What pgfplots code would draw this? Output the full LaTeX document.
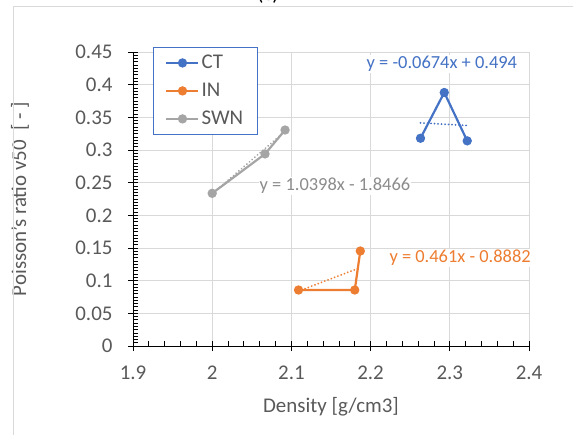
\documentclass[border=0pt]{standalone}
\usepackage{fontspec}
\setmainfont{Carlito}
\usepackage{pgfplots}
\pgfplotsset{compat=1.18}
\definecolor{ctblue}{HTML}{4472C4}
\definecolor{inorange}{HTML}{ED7D31}
\definecolor{swngray}{HTML}{A5A5A5}
\definecolor{txtgray}{HTML}{595959}
\definecolor{gridgray}{HTML}{D9D9D9}
\begin{document}
\begin{tikzpicture}
\path[use as bounding box] (-133bp,-89bp) rectangle (440bp,346bp);
\begin{axis}[
  at={(0,0)}, anchor=south west,
  scale only axis, width=396bp, height=294bp,
  xmin=1.9, xmax=2.4, ymin=0, ymax=0.45,
  xtick={1.9,2,2.1,2.2,2.3,2.4},
  ytick={0,0.05,0.1,0.15,0.2,0.25,0.3,0.35,0.4,0.45},
  scaled ticks=false,
  xticklabel={\pgfmathprintnumber[fixed,precision=2,assume math mode=true]{\tick}},
  yticklabel={\pgfmathprintnumber[fixed,precision=2,assume math mode=true]{\tick}},
  minor x tick num=4, minor y tick num=9,
  axis lines*=left,
  clip=false,
  grid=major, major grid style={gridgray, line width=0.8bp},
  axis line style={black, line width=0.8bp},
  tick style={black, line width=0.8bp},
  tick align=center, major tick length=10bp, minor tick length=5bp,
  minor x tick style={yshift=2.5bp}, minor y tick style={xshift=2.5bp},
  ticklabel style={font=\fontsize{21}{24}\selectfont, text=txtgray},
  xticklabel style={yshift=-11bp},
  yticklabel style={xshift=-12bp},
  xlabel={Density [g/cm3]},
  ylabel={Poisson's ratio v50\ \ [ - ]},
  label style={font=\fontsize{21}{24}\selectfont, text=txtgray},
  xlabel style={at={(axis description cs:0.5,-0.2245)}, anchor=base},
  ylabel style={at={(axis description cs:-0.2853,0.5)}, anchor=center},
  legend style={at={(axis description cs:0.0505,1.017)}, anchor=north west,
    draw=ctblue, line width=0.8bp, font=\fontsize{21}{24}\selectfont, text=txtgray,
    inner xsep=12bp, inner ysep=6bp, row sep=9bp,
    nodes={inner xsep=2bp}},
  legend cell align=left,
  legend image code/.code={\draw[mark repeat=2,mark phase=2] plot coordinates {(0bp,0bp)(16bp,0bp)(32bp,0bp)};},
]
\addplot[ctblue, line width=2.2bp, mark=*, mark size=3.5bp] coordinates {(2.263,0.318)(2.293,0.388)(2.322,0.314)};
\addlegendentry{CT}
\addplot[inorange, line width=2.2bp, mark=*, mark size=3.5bp] coordinates {(2.109,0.0857)(2.180,0.0857)(2.187,0.1454)};
\addlegendentry{IN}
\addplot[swngray, line width=2.2bp, mark=*, mark size=3.5bp] coordinates {(2.000,0.2337)(2.0667,0.294)(2.092,0.3306)};
\addlegendentry{SWN}
\addplot[ctblue, line width=2bp, line cap=round, dash pattern=on 0.01bp off 3.5bp, forget plot] coordinates {(2.263,0.3415)(2.322,0.3375)};
\addplot[inorange, line width=2bp, line cap=round, dash pattern=on 0.01bp off 3.5bp, forget plot] coordinates {(2.109,0.0840)(2.187,0.1200)};
\addplot[swngray, line width=2bp, line cap=round, dash pattern=on 0.01bp off 3.5bp, forget plot] coordinates {(2.000,0.2330)(2.092,0.3286)};
\node[fill=white, inner sep=1bp, text=ctblue, font=\fontsize{18.5}{22}\selectfont] at (axis cs:2.290,0.4316) {y = -0.0674x + 0.494};
\node[fill=white, inner sep=1bp, text=swngray!85!black, font=\fontsize{18.5}{22}\selectfont] at (axis cs:2.155,0.245) {y = 1.0398x - 1.8466};
\node[fill=white, inner sep=1bp, text=inorange, font=\fontsize{18.5}{22}\selectfont] at (axis cs:2.313,0.1347) {y = 0.461x - 0.8882};
\end{axis}
\draw[gridgray, line width=0.8bp] (-120bp,-89bp) -- (-120bp,340bp) -- (440bp,340bp);
\node[anchor=base, font=\fontsize{21}{24}\selectfont, text=black] at (135bp,345bp) {(c)};
\end{tikzpicture}
\end{document}
